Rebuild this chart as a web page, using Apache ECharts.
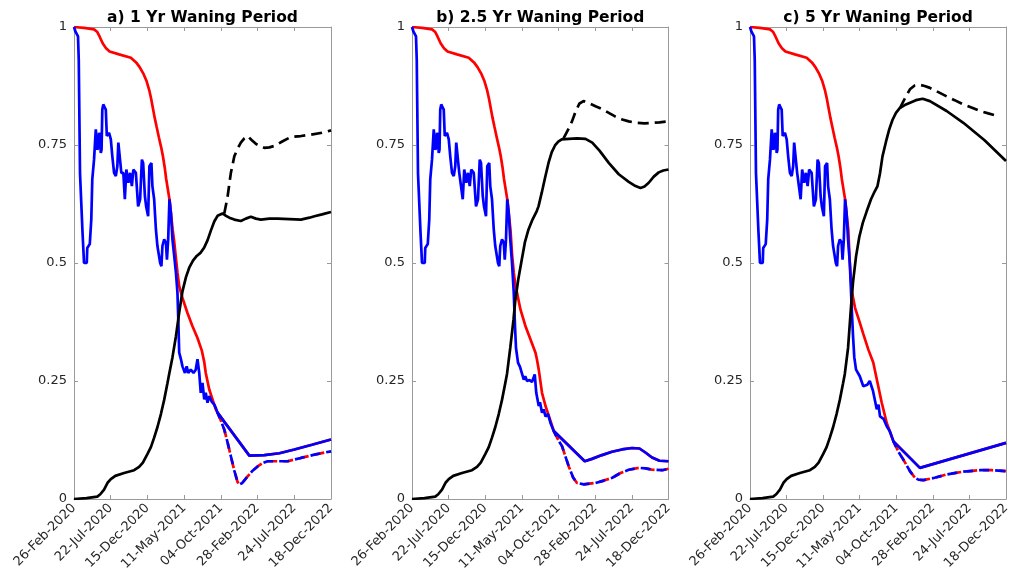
<!DOCTYPE html>
<html><head><meta charset="utf-8">
<script src="https://cdn.jsdelivr.net/npm/echarts@6/dist/echarts.min.js"></script>
<style>html,body{margin:0;padding:0;background:#fff}#c{width:1021px;height:587px}</style>
</head><body><div id="c"></div>
<script>
// ---- tick labels / titles ----
const xTickLabels = ['26-Feb-2020','22-Jul-2020','15-Dec-2020','11-May-2021','04-Oct-2021','28-Feb-2022','24-Jul-2022','18-Dec-2022'];
const yTickLabels = ['0','0.25','0.5','0.75','1'];
const panelTitles = ['a) 1 Yr Waning Period','b) 2.5 Yr Waning Period','c) 5 Yr Waning Period'];
const totalDays = 1026; // days from 26-Feb-2020 to 18-Dec-2022

// ---- shared early data: [day since 26-Feb-2020, fraction] ----
const redEarly = [[0,1],[40,0.998],[80,0.995],[92,0.99],[102,0.98],[115,0.965],[128,0.955],[142,0.948],[180,0.942],[227,0.935],[248,0.925],[262,0.915],[278,0.9],[290,0.885],[300,0.867],[308,0.848],[315,0.828],[322,0.808],[330,0.788],[339,0.766],[348,0.745],[355,0.726],[362,0.703],[368,0.678],[375,0.655],[382,0.632],[388,0.6],[394,0.57]];
const blueEarly = [[0,1],[6,0.99],[16,0.98],[19,0.93],[23,0.93],[24,0.69],[31,0.69],[34,0.565],[38,0.565],[40,0.5],[51,0.5],[53,0.532],[63,0.54],[69,0.592],[73,0.677],[80,0.719],[84,0.72],[87,0.783],[91,0.78],[93,0.74],[97,0.745],[100,0.776],[103,0.77],[107,0.733],[110,0.74],[113,0.825],[117,0.836],[122,0.83],[127,0.825],[131,0.769],[140,0.776],[147,0.762],[153,0.726],[160,0.691],[167,0.684],[173,0.705],[177,0.755],[184,0.755],[189,0.691],[197,0.691],[203,0.635],[209,0.698],[217,0.67],[224,0.691],[231,0.663],[237,0.698],[247,0.691],[256,0.62],[264,0.635],[271,0.719],[276,0.712],[283,0.642],[288,0.62],[296,0.599],[301,0.705],[309,0.712],[313,0.663],[320,0.635],[327,0.571],[333,0.536],[340,0.536],[344,0.5],[349,0.493],[353,0.536],[360,0.55],[367,0.543],[371,0.507],[376,0.55],[381,0.635],[387,0.606],[393,0.55]];
const blackEarly = [[0,0],[50,0.002],[93,0.005],[105,0.01],[120,0.02],[135,0.035],[147,0.042],[165,0.049],[200,0.055],[240,0.061],[260,0.068],[275,0.077],[293,0.095],[307,0.11],[320,0.13],[333,0.152],[347,0.18],[360,0.21],[373,0.245],[380,0.265]];

// ---- panel a (1 yr waning) ----
const redA = [[400,0.545],[407,0.51],[413,0.48],[420,0.451],[433,0.426],[443,0.41],[453,0.394],[473,0.366],[493,0.341],[510,0.315],[520,0.29],[526,0.267],[540,0.232],[553,0.211],[566,0.19],[573,0.183]];
const blueA = [[400,0.515],[407,0.479],[413,0.437],[416,0.387],[420,0.31],[427,0.296],[433,0.281],[443,0.267],[450,0.281],[456,0.267],[466,0.274],[477,0.267],[486,0.274],[493,0.296],[500,0.267],[506,0.225],[513,0.246],[520,0.211],[526,0.225],[533,0.204],[540,0.218],[549,0.207],[560,0.2],[566,0.193],[573,0.183]];
const solidA = [[573,0.183],[700,0.092],[760,0.093],[820,0.097],[880,0.105],[950,0.115],[1026,0.126]];
const dashA = [[573,0.183],[585,0.168],[600,0.147],[613,0.12],[626,0.091],[640,0.06],[653,0.036],[662,0.031],[672,0.034],[693,0.048],[713,0.06],[733,0.069],[753,0.076],[773,0.08],[853,0.08],[906,0.087],[960,0.094],[1026,0.101]];
const blackA = [[393,0.3],[407,0.345],[420,0.395],[433,0.44],[447,0.47],[460,0.49],[475,0.505],[490,0.515],[506,0.522],[520,0.533],[533,0.548],[546,0.568],[560,0.588],[573,0.6],[593,0.605],[607,0.6],[620,0.596],[640,0.592],[666,0.589],[686,0.594],[706,0.598],[726,0.594],[746,0.592],[780,0.594],[813,0.594],[860,0.593],[906,0.592],[940,0.596],[960,0.599],[990,0.603],[1026,0.608]];
const blackDashA = [[600,0.605],[613,0.64],[626,0.69],[640,0.726],[653,0.742],[666,0.755],[680,0.764],[693,0.769],[710,0.76],[727,0.752],[760,0.744],[780,0.745],[800,0.748],[833,0.758],[866,0.767],[906,0.769],[946,0.772],[990,0.776],[1026,0.781]];

// ---- panel b (2.5 yr waning) ----
const redB = [[400,0.52],[407,0.48],[413,0.455],[420,0.437],[434,0.401],[454,0.366],[474,0.338],[494,0.31],[500,0.295],[507,0.274],[520,0.225],[534,0.197],[550,0.172],[567,0.144]];
const blueB = [[400,0.5],[407,0.437],[412,0.366],[416,0.32],[424,0.289],[432,0.28],[447,0.253],[453,0.26],[460,0.25],[470,0.252],[480,0.248],[491,0.264],[497,0.225],[507,0.197],[512,0.205],[520,0.183],[527,0.19],[534,0.175],[544,0.18],[554,0.161],[567,0.144]];
const solidB = [[567,0.144],[691,0.08],[720,0.085],[760,0.093],[800,0.1],[840,0.105],[880,0.108],[910,0.107],[935,0.098],[960,0.088],[990,0.081],[1026,0.08]];
const dashB = [[567,0.144],[585,0.125],[600,0.112],[627,0.069],[645,0.045],[660,0.034],[687,0.031],[734,0.034],[767,0.039],[801,0.045],[834,0.055],[867,0.062],[907,0.066],[935,0.065],[961,0.062],[1001,0.061],[1026,0.064]];
const blackB = [[393,0.32],[406,0.38],[413,0.42],[425,0.465],[439,0.507],[452,0.545],[466,0.571],[482,0.592],[499,0.61],[506,0.62],[519,0.649],[532,0.68],[546,0.712],[559,0.735],[572,0.749],[585,0.757],[599,0.762],[627,0.763],[660,0.764],[694,0.763],[721,0.755],[750,0.738],[787,0.712],[827,0.688],[867,0.672],[894,0.663],[914,0.659],[930,0.662],[947,0.67],[967,0.683],[987,0.692],[1005,0.696],[1026,0.698]];
const blackDashB = [[606,0.764],[614,0.772],[627,0.785],[640,0.8],[655,0.822],[670,0.838],[686,0.843],[710,0.838],[734,0.832],[760,0.826],[787,0.818],[814,0.81],[841,0.804],[867,0.8],[894,0.797],[930,0.796],[961,0.797],[990,0.798],[1026,0.8]];

// ---- panel c (5 yr waning) ----
const redC = [[400,0.5],[408,0.44],[421,0.405],[441,0.372],[454,0.35],[474,0.317],[494,0.289],[514,0.239],[528,0.204],[548,0.161],[575,0.122]];
const blueC = [[400,0.5],[404,0.45],[408,0.401],[413,0.345],[418,0.3],[425,0.274],[440,0.26],[454,0.239],[470,0.242],[480,0.25],[488,0.253],[493,0.229],[508,0.19],[515,0.2],[521,0.175],[535,0.17],[548,0.154],[560,0.144],[575,0.122]];
const solidC = [[575,0.122],[681,0.066],[1026,0.119]];
const dashC = [[575,0.122],[595,0.1],[614,0.084],[641,0.059],[661,0.045],[675,0.041],[695,0.04],[740,0.045],[788,0.052],[855,0.058],[922,0.061],[970,0.061],[1026,0.059]];
const blackC = [[393,0.32],[405,0.408],[413,0.46],[425,0.514],[438,0.555],[452,0.585],[468,0.61],[485,0.635],[500,0.652],[511,0.663],[521,0.69],[531,0.726],[545,0.757],[558,0.783],[571,0.803],[585,0.818],[600,0.828],[625,0.836],[665,0.845],[692,0.848],[721,0.843],[788,0.822],[855,0.797],[940,0.76],[1026,0.716]];
const blackDashC = [[601,0.828],[620,0.848],[641,0.868],[660,0.876],[675,0.878],[700,0.875],[721,0.871],[755,0.862],[788,0.853],[820,0.845],[855,0.836],[890,0.829],[922,0.822],[955,0.817],[989,0.812],[1000,0.811]];

// ---- build ----
const panels = [
  {title: panelTitles[0], red: redA, blue: blueA, solid: solidA, dash: dashA, black: blackA, blackDash: blackDashA},
  {title: panelTitles[1], red: redB, blue: blueB, solid: solidB, dash: dashB, black: blackB, blackDash: blackDashB},
  {title: panelTitles[2], red: redC, blue: blueC, solid: solidC, dash: dashC, black: blackC, blackDash: blackDashC}
];
const gridBoxes = [
  {left: 74, width: 257},
  {left: 412, width: 256.5},
  {left: 750, width: 256}
];
const TOP = 27, HEIGHT = 472;
const axisColor = '#9a9a9a';
const labelColor = '#262626';
const FONT = 'DejaVu Sans';
const step = totalDays / (xTickLabels.length - 1);

const grids = [], xAxes = [], yAxes = [], series = [], graphics = [];
panels.forEach((p, i) => {
  const g = gridBoxes[i];
  grids.push({left: g.left, top: TOP, width: g.width, height: HEIGHT, containLabel: false});
  const common = {
    gridIndex: i, type: 'value', min: 0,
    splitLine: {show: false},
    axisLine: {show: true, onZero: false, lineStyle: {color: axisColor, width: 1}},
    axisTick: {show: true, inside: true, length: 4, lineStyle: {color: axisColor}}
  };
  xAxes.push(Object.assign({}, common, {
    position: 'bottom', max: totalDays, interval: step,
    axisLabel: {show: true, rotate: 45, margin: 7, color: labelColor, fontFamily: FONT, fontSize: 13,
      formatter: v => xTickLabels[Math.round(v / step)] || ''}
  }));
  xAxes.push(Object.assign({}, common, {
    position: 'top', max: totalDays, interval: step, axisLabel: {show: false}
  }));
  yAxes.push(Object.assign({}, common, {
    position: 'left', max: 1, interval: 0.25,
    axisLabel: {show: true, margin: 7, color: labelColor, fontFamily: FONT, fontSize: 13,
      formatter: v => yTickLabels[Math.round(v / 0.25)]}
  }));
  yAxes.push(Object.assign({}, common, {
    position: 'right', max: 1, interval: 0.25, axisLabel: {show: false}
  }));
  const xi = i * 2, yi = i * 2;
  const base = {type: 'line', xAxisIndex: xi, yAxisIndex: yi, symbol: 'none', showSymbol: false, animation: false, silent: true};
  const LW = 2.7;
  series.push(Object.assign({}, base, {name: 'red' + i, data: redEarly.concat(p.red, p.solid.slice(1)), lineStyle: {color: '#ff0000', width: LW}, z: 2}));
  series.push(Object.assign({}, base, {name: 'blue' + i, data: blueEarly.concat(p.blue, p.solid.slice(1)), lineStyle: {color: '#0000ff', width: LW}, z: 3}));
  series.push(Object.assign({}, base, {name: 'reddash' + i, data: p.dash, lineStyle: {color: '#ff0000', width: LW, type: [10, 6]}, z: 2}));
  series.push(Object.assign({}, base, {name: 'bluedash' + i, data: p.dash, lineStyle: {color: '#0000ff', width: LW, type: [10, 6], dashOffset: 4}, z: 3}));
  series.push(Object.assign({}, base, {name: 'black' + i, data: blackEarly.concat(p.black), lineStyle: {color: '#000000', width: LW}, z: 4}));
  series.push(Object.assign({}, base, {name: 'blackdash' + i, data: p.blackDash, lineStyle: {color: '#000000', width: LW, type: [11, 6]}, z: 4}));
  graphics.push({type: 'text', x: g.left + g.width / 2, y: 18,
    style: {text: p.title, fill: '#000', font: 'bold 15.5px "DejaVu Sans"', textAlign: 'center', textVerticalAlign: 'middle'}});
});

const chart = echarts.init(document.getElementById('c'), null, {renderer: 'canvas'});
chart.setOption({
  animation: false,
  backgroundColor: '#ffffff',
  grid: grids, xAxis: xAxes, yAxis: yAxes, series: series,
  graphic: graphics
});
</script>
</body></html>
